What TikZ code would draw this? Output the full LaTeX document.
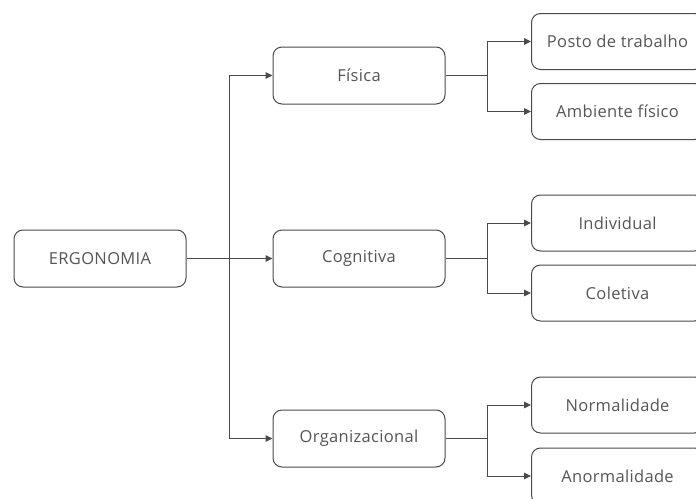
\documentclass[tikz,border=0pt]{standalone}
\usepackage{fontspec}
\setmainfont[LetterSpace=2]{Open Sans}
\usetikzlibrary{arrows.meta}
\definecolor{txt}{HTML}{555555}
\definecolor{ln}{HTML}{4A4A4A}
\begin{document}
\begin{tikzpicture}[x=1pt,y=-1pt,
  box/.style={draw=ln,line width=1pt,rounded corners=9pt,minimum width=172pt,minimum height=57pt,inner sep=0pt,text=txt,font=\fontsize{16.5}{18}\selectfont},
  rbox/.style={box,minimum height=56pt},
  conn/.style={draw=ln,line width=1pt},
  arr/.style={conn,-{Triangle[length=7pt,width=6.5pt]}}]
\useasboundingbox (0,0) rectangle (696,498);
\clip (0,0) rectangle (696,498);
\node[box] (erg) at (100,258.5) {ERGONOMIA};
\node[box] (fis) at (359,75.5) {Física};
\node[box] (cog) at (359,258.5) {Cognitiva};
\node[box] (org) at (359,438.5) {Organizacional};
\node[rbox,anchor=west] (pt) at (531,41.5) {Posto de trabalho};
\node[rbox,anchor=west] (af) at (531,111.5) {Ambiente físico};
\node[rbox,anchor=west] (ind) at (531,223) {Individual};
\node[rbox,anchor=west] (col) at (531,293) {Coletiva};
\node[rbox,anchor=west] (nor) at (531,405) {Normalidade};
\node[rbox,anchor=west] (anor) at (531,476) {Anormalidade};
\coordinate (t) at (229,258.5);
\draw[conn,line width=1.4pt] (erg.east) -- (t);
\draw[arr] (t) |- (fis.west);
\draw[arr] (t) -- (cog.west);
\draw[arr] (t) |- (org.west);
\foreach \a/\b/\c in {fis/pt/af,cog/ind/col,org/nor/anor}{
  \coordinate (m\a) at ([xshift=42pt]\a.east);
  \draw[conn] (\a.east) -- (m\a);
  \draw[arr] (m\a) |- (\b.west);
  \draw[arr] (m\a) |- (\c.west);
}
\end{tikzpicture}
\end{document}
